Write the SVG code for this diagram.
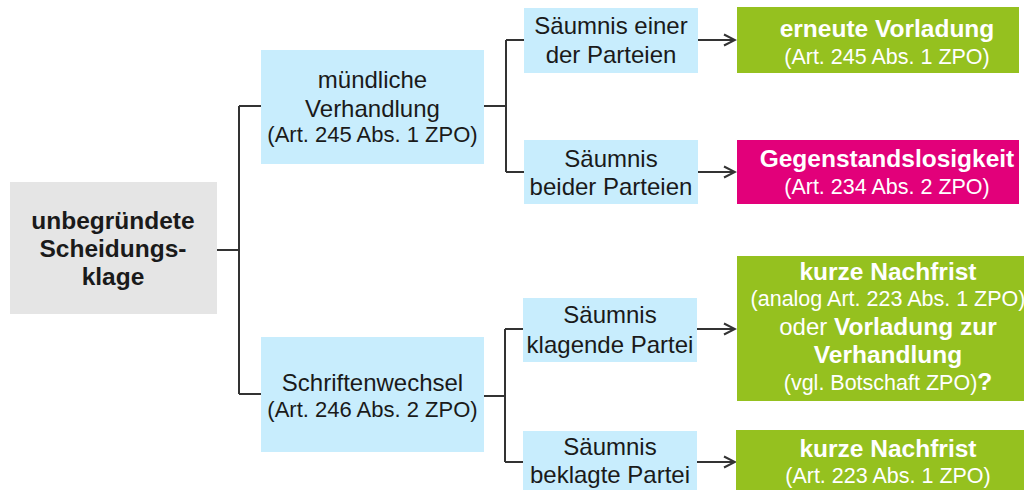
<svg xmlns="http://www.w3.org/2000/svg" width="1024" height="490" viewBox="0 0 1024 490">
  <defs>
    <style>
      .t { font-family: "Liberation Sans", Arial, sans-serif; text-anchor: middle; }
      .m { font-size: 24px; fill: #1a1a1a; }
      .c { font-size: 22px; }
      .cg { font-size: 21.5px; }
      .b { font-weight: bold; font-size: 24.5px; }
      .w { fill: #ffffff; }
      .k { fill: #1a1a1a; }
      .root { fill: #e5e5e5; }
      .blue { fill: #c8edfd; }
      .green { fill: #95c11f; }
      .pink { fill: #e2007a; }
      .ln { fill: none; stroke: #333333; stroke-width: 2; }
    </style>
    <marker id="arr" markerWidth="14" markerHeight="14" refX="12" refY="7" orient="auto" markerUnits="userSpaceOnUse">
      <path d="M1,1.5 L12,7 L1,12.5" fill="none" stroke="#333333" stroke-width="2"/>
    </marker>
  </defs>

  <g id="connectors">
    <path class="ln" d="M217,250 H239 M239,106 V394 M239,106 H261 M239,394 H261"/>
    <path class="ln" d="M484,106 H506 M506,40 V172 M506,40 H524 M506,172 H524"/>
    <path class="ln" d="M484,396 H505 M505,329 V462 M505,329 H523 M505,462 H523"/>
    <line class="ln" x1="698" y1="40" x2="735" y2="40" marker-end="url(#arr)"/>
    <line class="ln" x1="698" y1="172" x2="735" y2="172" marker-end="url(#arr)"/>
    <line class="ln" x1="697" y1="329" x2="735" y2="329" marker-end="url(#arr)"/>
    <line class="ln" x1="697" y1="462" x2="735" y2="462" marker-end="url(#arr)"/>
  </g>

  <g id="root">
    <rect class="root" x="10" y="182" width="207" height="132"/>
    <text class="t b k" x="113" y="229">unbegründete</text>
    <text class="t b k" x="113" y="257">Scheidungs-</text>
    <text class="t b k" x="113" y="285">klage</text>
  </g>

  <g id="muendlich">
    <rect class="blue" x="261" y="50" width="223" height="114"/>
    <text class="t m" x="372.5" y="88">mündliche</text>
    <text class="t m" x="372.5" y="117">Verhandlung</text>
    <text class="t m c" x="372.5" y="142">(Art. 245 Abs. 1 ZPO)</text>
  </g>

  <g id="schriftenwechsel">
    <rect class="blue" x="261" y="337" width="223" height="115"/>
    <text class="t m" x="372.5" y="391">Schriftenwechsel</text>
    <text class="t m c" x="372.5" y="417">(Art. 246 Abs. 2 ZPO)</text>
  </g>

  <g id="saeumnis-einer">
    <rect class="blue" x="524" y="8" width="174" height="65"/>
    <text class="t m" x="611" y="34">Säumnis einer</text>
    <text class="t m" x="611" y="63">der Parteien</text>
  </g>

  <g id="saeumnis-beider">
    <rect class="blue" x="524" y="140" width="174" height="64"/>
    <text class="t m" x="611" y="167">Säumnis</text>
    <text class="t m" x="611" y="195">beider Parteien</text>
  </g>

  <g id="saeumnis-klagend">
    <rect class="blue" x="523" y="298" width="174" height="64"/>
    <text class="t m" x="610" y="323">Säumnis</text>
    <text class="t m" x="610" y="353">klagende Partei</text>
  </g>

  <g id="saeumnis-beklagt">
    <rect class="blue" x="523" y="431" width="174" height="65"/>
    <text class="t m" x="610" y="455">Säumnis</text>
    <text class="t m" x="610" y="483">beklagte Partei</text>
  </g>

  <g id="erneute-vorladung">
    <rect class="green" x="737" y="7" width="282" height="66"/>
    <text class="t b w" x="887" y="37">erneute Vorladung</text>
    <text class="t cg w" x="887" y="64">(Art. 245 Abs. 1 ZPO)</text>
  </g>

  <g id="gegenstandslosigkeit">
    <rect class="pink" x="737" y="140" width="282" height="64"/>
    <text class="t b w" x="887" y="167">Gegenstandslosigkeit</text>
    <text class="t cg w" x="887" y="194">(Art. 234 Abs. 2 ZPO)</text>
  </g>

  <g id="nachfrist-analog">
    <rect class="green" x="737" y="256" width="300" height="145"/>
    <text class="t b w" x="888" y="280">kurze Nachfrist</text>
    <text class="t cg w" x="888" y="306">(analog Art. 223 Abs. 1 ZPO)</text>
    <text class="t w" x="888" y="335" style="font-size:24px">oder <tspan font-weight="bold" font-size="24.5">Vorladung zur</tspan></text>
    <text class="t b w" x="888" y="363">Verhandlung</text>
    <text class="t w" x="888" y="390"><tspan font-size="21.5">(vgl. Botschaft ZPO)</tspan><tspan font-size="24.5" font-weight="bold">?</tspan></text>
  </g>

  <g id="nachfrist">
    <rect class="green" x="736" y="430" width="300" height="66"/>
    <text class="t b w" x="888" y="457">kurze Nachfrist</text>
    <text class="t cg w" x="888" y="483">(Art. 223 Abs. 1 ZPO)</text>
  </g>
</svg>
